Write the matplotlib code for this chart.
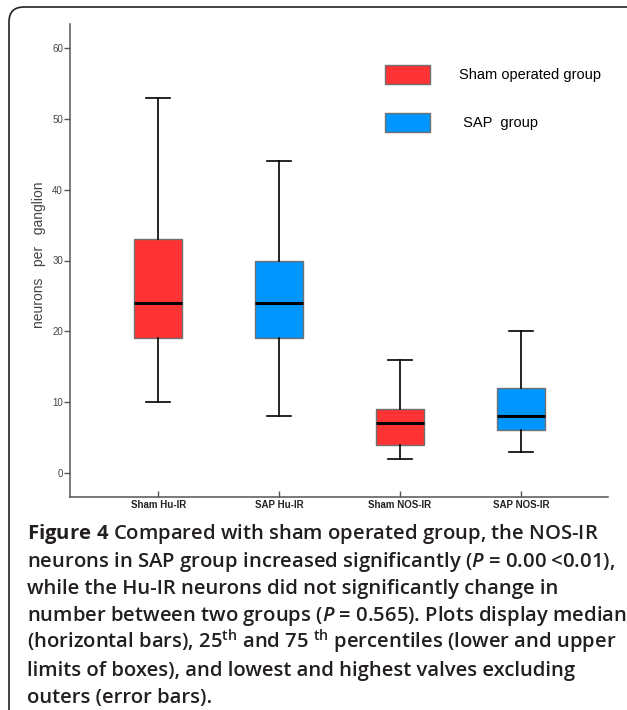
import matplotlib
matplotlib.use("Agg")
import matplotlib.pyplot as plt
from matplotlib.patches import FancyBboxPatch, Patch

# data
groups = ["Sham Hu-IR", "SAP Hu-IR", "Sham NOS-IR", "SAP NOS-IR"]
whis_low = [10, 8, 2, 3]
q1 = [19, 19, 4, 6]
median = [24, 24, 7, 8]
q3 = [33, 30, 9, 12]
whis_high = [53, 44, 16, 20]
box_colors = ["#ff3333", "#0096ff", "#ff3333", "#0096ff"]
legend_labels = ["Sham operated group", " SAP  group"]

plt.rcParams["mathtext.fontset"] = "custom"
plt.rcParams["mathtext.rm"] = "Open Sans:semibold"
plt.rcParams["mathtext.it"] = "Open Sans:italic:semibold"
plt.rcParams["mathtext.bf"] = "Open Sans:bold"

fig = plt.figure(figsize=(6.27, 7.10), dpi=100)
ax = fig.add_axes([70 / 627, 1 - 497 / 710, 538 / 627, 473 / 710])

stats = []
for i, g in enumerate(groups):
    stats.append(dict(label=g, whislo=whis_low[i], q1=q1[i], med=median[i],
                      q3=q3[i], whishi=whis_high[i], fliers=[]))

bp = ax.bxp(stats, positions=range(1, 5), widths=0.4, capwidths=0.2,
            patch_artist=True, showfliers=False,
            boxprops=dict(edgecolor="#707070", linewidth=1.0),
            medianprops=dict(color="black", linewidth=2.2),
            whiskerprops=dict(color="black", linewidth=1.2),
            capprops=dict(color="black", linewidth=1.2))
for patch, c in zip(bp["boxes"], box_colors):
    patch.set_facecolor(c)
    patch.set_zorder(2)
for m in bp["medians"]:
    m.set_zorder(3)

ax.set_xlim(0.27, 4.72)
ax.set_ylim(-3.4, 63.4)
ax.set_yticks([0, 10, 20, 30, 40, 50, 60])
ax.set_xticks(range(1, 5))
ax.set_xticklabels(groups, fontfamily="Liberation Sans", fontweight="bold",
                   fontsize=7, color="#222222")
for lab in ax.get_yticklabels():
    lab.set_fontfamily("Liberation Sans")
    lab.set_fontsize(7)
    lab.set_color("#444444")
ax.tick_params(axis="y", direction="out", length=4, width=1, color="#555555", pad=1)
ax.tick_params(axis="x", direction="in", length=4, width=1, color="#555555", pad=2)
for s in ["top", "right"]:
    ax.spines[s].set_visible(False)
for s in ["left", "bottom"]:
    ax.spines[s].set_color("#555555")
    ax.spines[s].set_linewidth(1.1)

fig.text(39 / 627, 1 - 255 / 710, "neurons   per   ganglion", rotation=90,
         ha="center", va="center", fontfamily="Liberation Sans",
         fontsize=10, color="#444444")

handles = [Patch(facecolor=box_colors[0], edgecolor="#707070"),
           Patch(facecolor=box_colors[1], edgecolor="#707070")]
ax.legend(handles, legend_labels, loc="upper left",
          bbox_to_anchor=(385 / 627, 1 - 65 / 710), bbox_transform=fig.transFigure,
          frameon=False, borderpad=0, borderaxespad=0,
          prop=dict(family="Liberation Sans", size=10.5),
          handlelength=3.1, handleheight=1.6, handletextpad=2.0, labelspacing=2.0)

caption = [
    r"$\mathbf{Figure\ 4}$ Compared with sham operated group, the NOS-IR",
    r"neurons in SAP group increased significantly ($P$ = 0.00 <0.01),",
    r"while the Hu-IR neurons did not significantly change in",
    r"number between two groups ($P$ = 0.565). Plots display median",
    r"(horizontal bars), 25$^{\mathrm{th}}$ and 75 $^{\mathrm{th}}$ percentiles (lower and upper",
    r"limits of boxes), and lowest and highest valves excluding",
    r"outers (error bars).",
]
caption_baselines = [539, 567, 594, 621, 648, 676, 703]
for line, yb in zip(caption, caption_baselines):
    fig.text(27 / 627, 1 - yb / 710, line, ha="left", va="baseline",
             fontfamily="Open Sans", fontweight="semibold", fontsize=14.6,
             color="#231f20")

frame = FancyBboxPatch((0.09, -0.3), 6.5, 7.33, boxstyle="round,pad=0,rounding_size=0.15",
                       transform=fig.dpi_scale_trans, facecolor="none",
                       edgecolor="#222222", linewidth=1.2, clip_on=False)
fig.patches.append(frame)

fig.savefig("out.png", dpi=100)
